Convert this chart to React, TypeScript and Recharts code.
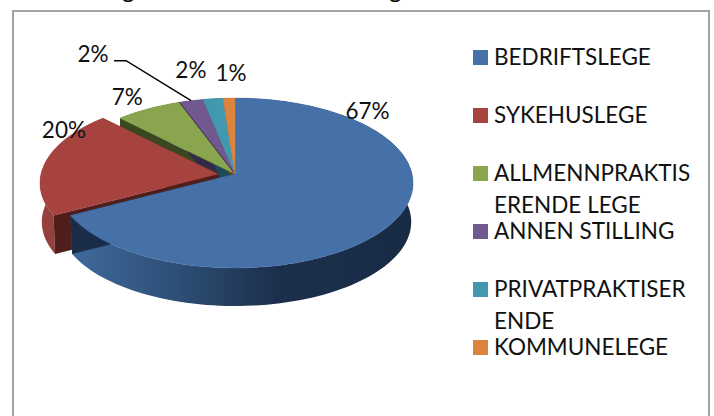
import React from "react";
import { PieChart, Pie, Legend } from "recharts";

const categories = ["BEDRIFTSLEGE", "SYKEHUSLEGE", "ALLMENNPRAKTISERENDE LEGE", "ANNEN STILLING", "PRIVATPRAKTISERENDE", "KOMMUNELEGE"];
const values = [67.1, 20.4, 6.7, 2.4, 2.0, 1.2];
const colors = ["#4571A8", "#A6433F", "#89A54E", "#71588F", "#4198AF", "#DB843D"];
const sideColors = ["url(#blueWall)", "#95403D", "#3A4720", "#352A45", "#1F4A55", "#6A3E1D"];
const cutColors = ["#1A2D48", "#4F1E1B", "#3A4720", "#352A45", "#1F4A55", "#6A3E1D"];
const edgeColors = ["", "", "", "#3B2E4C", "", ""];
const explodeX = [0, -17, 0, 0, 0, 0];
const labelOffsets = [[-28, -109], [1, -32], [-21, -12], [-98, -47], [-22, -29], [2, -26]];
const wallLayers = [[2, 3, 4, 5], [1], [0]];

const FONT = "Lato, Carlito, sans-serif";
const W = 714, H = 416, CX = 235, CY = 174, R = 177;
const FLAT = 84 / 177, PERSP = 0.106, DEPTH = 39, SHRINK = 0.99;

const data = categories.map((name, i) => ({ name, value: values[i], fill: colors[i] }));

function project(angle: number, cx: number, cy: number, r: number, k = 1) {
  const a = (angle * Math.PI) / 180;
  const X = Math.cos(a) * k, Y = -Math.sin(a) * k;
  const d = 1 - PERSP * Y;
  return { x: cx + (r * X) / d, y: cy + (r * FLAT * Y) / d };
}

function arcPoints(start: number, end: number, cx: number, cy: number, r: number) {
  const n = Math.max(2, Math.ceil(Math.abs(end - start) / 2));
  return Array.from({ length: n + 1 }, (_, i) => project(start + ((end - start) * i) / n, cx, cy, r));
}

const toPath = (pts: { x: number; y: number }[]) =>
  "M" + pts.map((p) => `${p.x.toFixed(2)},${p.y.toFixed(2)}`).join("L") + "Z";

const TopShape = (p: any) => {
  const i = categories.indexOf(p.name);
  const cx = p.cx + explodeX[i];
  const arc = arcPoints(p.startAngle, p.endAngle, cx, p.cy, p.outerRadius);
  return (
    <g>
      <path d={toPath([{ x: cx, y: p.cy }, ...arc])} fill={colors[i]} stroke={colors[i]} strokeWidth={0.4} />
      {edgeColors[i] && (
        <line x1={cx} y1={p.cy} x2={arc[0].x} y2={arc[0].y} stroke={edgeColors[i]} strokeWidth={1} />
      )}
    </g>
  );
};

const makeWall = (layer: number[]) => (p: any) => {
  const i = categories.indexOf(p.name);
  if (!layer.includes(i)) return <g />;
  const cx = p.cx + explodeX[i];
  const top = arcPoints(p.startAngle, p.endAngle, cx, p.cy, p.outerRadius);
  const bottom = arcPoints(p.endAngle, p.startAngle, cx, p.cy + DEPTH, p.outerRadius * SHRINK);
  const apex = { x: cx, y: p.cy };
  const apexLow = { x: cx, y: p.cy + DEPTH };
  const first = top[0], last = top[top.length - 1];
  const firstLow = bottom[bottom.length - 1], lastLow = bottom[0];
  return (
    <g>
      <defs>
        <linearGradient id="blueWall" gradientUnits="userSpaceOnUse" x1={p.cx - p.outerRadius * 0.93} x2={p.cx + p.outerRadius} y1={0} y2={0}>
          <stop offset="0" stopColor="#3F6A9C" />
          <stop offset="0.3" stopColor="#2E5077" />
          <stop offset="0.6" stopColor="#1C304D" />
          <stop offset="1" stopColor="#182B45" />
        </linearGradient>
      </defs>
      <path d={toPath([...top, ...bottom])} fill={sideColors[i]} />
      <path d={toPath([apex, first, firstLow, apexLow])} fill={cutColors[i]} />
      <path d={toPath([apex, last, lastLow, apexLow])} fill={cutColors[i]} />
    </g>
  );
};

const renderLabel = (p: any) => {
  const i = categories.indexOf(p.name);
  const anchor = project(p.midAngle, p.cx, p.cy, p.outerRadius);
  const x = anchor.x + labelOffsets[i][0];
  const y = anchor.y + labelOffsets[i][1];
  return (
    <g key={p.name}>
      {i === 3 && (
        <polyline
          points={`${x + 21},${y + 7} ${x + 33},${y + 7} ${anchor.x},${anchor.y}`}
          fill="none"
          stroke="#000"
          strokeWidth={1.4}
        />
      )}
      <text x={x} y={y} textAnchor="middle" dominantBaseline="central" fontFamily={FONT} fontSize={22.5} fill="#111">
        {`${Math.round(p.value)}%`}
      </text>
    </g>
  );
};

const renderLegend = (props: any) => {
  const entries = categories
    .map((name) => (props.payload || []).find((e: any) => e.value === name))
    .filter(Boolean);
  return (
    <div style={{ position: "relative", width: W, height: H, fontFamily: FONT, fontSize: 22.5, color: "#111" }}>
      {entries.map((e: any, i: number) => (
        <div key={e.value} style={{ position: "absolute", left: 473, top: 41 + 58 * i }}>
          <div style={{ position: "absolute", left: 0, top: 8.5, width: 15, height: 15, background: colors[i] }} />
          <div style={{ position: "absolute", left: 21, top: 0, width: 198, lineHeight: "32px", wordBreak: "break-all", textAlign: "left" }}>
            {e.value}
          </div>
        </div>
      ))}
    </div>
  );
};

export default function App() {
  return (
    <div style={{ position: "absolute", left: 0, top: 0, width: W, height: H, background: "#fff", overflow: "hidden" }}>
      <span style={{ position: "absolute", left: 122, top: -25, fontFamily: FONT, fontSize: 24, lineHeight: "28px" }}>g</span>
      <span style={{ position: "absolute", left: 389, top: -25, fontFamily: FONT, fontSize: 24, lineHeight: "28px" }}>g</span>
      <div
        style={{
          position: "absolute", left: 12, top: 10, width: 694, height: 420, boxSizing: "content-box",
          borderLeft: "2px solid #A3A3A3", borderTop: "2px solid #A3A3A3", borderRight: "2px solid #A3A3A3",
        }}
      />
      <div style={{ position: "absolute", left: 0, top: 0 }}>
        <PieChart width={W} height={H} margin={{ top: 0, right: 0, bottom: 0, left: 0 }}>
          {wallLayers.map((layer, n) => (
            <Pie
              key={n}
              data={data}
              dataKey="value"
              nameKey="name"
              cx={CX}
              cy={CY}
              outerRadius={R}
              startAngle={90}
              endAngle={-270}
              stroke="none"
              legendType="none"
              isAnimationActive={false}
              shape={makeWall(layer)}
            />
          ))}
          <Pie
            data={data}
            dataKey="value"
            nameKey="name"
            cx={CX}
            cy={CY}
            outerRadius={R}
            startAngle={90}
            endAngle={-270}
            stroke="none"
            isAnimationActive={false}
            shape={TopShape}
            label={renderLabel}
            labelLine={false}
          />
          <Legend content={renderLegend} wrapperStyle={{ position: "absolute", left: 0, top: 0, width: W, height: H, pointerEvents: "none" }} />
        </PieChart>
      </div>
    </div>
  );
}
